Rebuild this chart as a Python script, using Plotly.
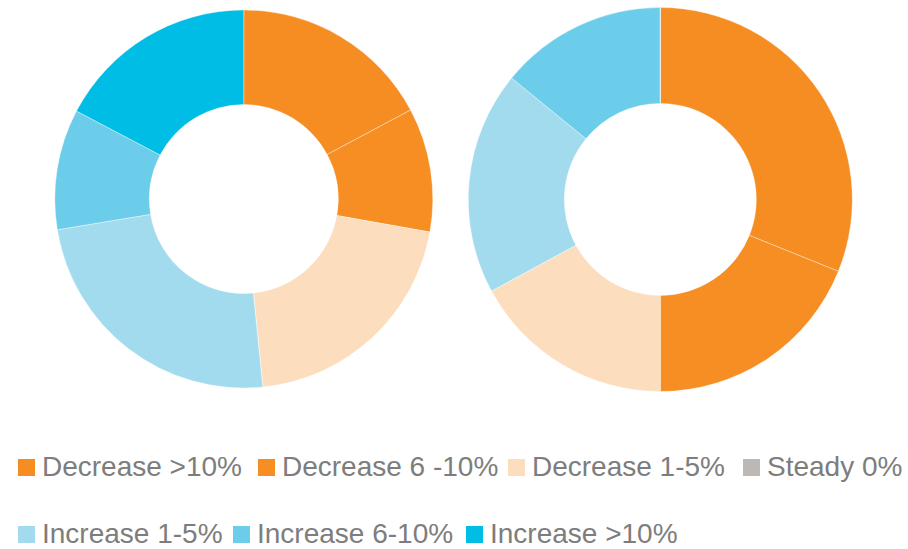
import plotly.graph_objects as go

# Share of respondents by expected change, two survey groups
categories = [
    "Decrease >10%",
    "Decrease 6 -10%",
    "Decrease 1-5%",
    "Steady 0%",
    "Increase 1-5%",
    "Increase 6-10%",
    "Increase >10%",
]
left_values = [17.2, 10.6, 20.6, 0, 24.0, 10.3, 17.3]
right_values = [31.1, 18.9, 17.1, 0, 18.8, 14.1, 0]

colors = ["#F58D22", "#F68E23", "#FCDDBE", "#BDB8B3", "#A3DBEE", "#6BCDEA", "#00BDE5"]

W, H = 908, 549


def px_x(x):
    return x / W


def px_y(y):
    return 1 - y / H


def pie_domain(cx, cy, r):
    return dict(x=[px_x(cx - r), px_x(cx + r)], y=[px_y(cy + r), px_y(cy - r)])


fig = go.Figure()
for vals, (cx, cy, r) in [(left_values, (243.8, 199, 189)), (right_values, (660.3, 199.5, 192))]:
    fig.add_trace(go.Pie(
        labels=categories,
        values=vals,
        hole=0.5,
        sort=False,
        direction="clockwise",
        rotation=0,
        textinfo="none",
        hoverinfo="label+value",
        marker=dict(colors=colors, line=dict(color="rgba(255,255,255,0.6)", width=0.6)),
        domain=pie_domain(cx, cy, r),
        showlegend=False,
    ))

# Custom legend: coloured swatch followed by its label, two rows
legend_rows = [(466.5, [0, 1, 2, 3], [18, 258, 508, 743]),
               (533.5, [4, 5, 6], [18, 233, 466])]
swatch = 17
text_gap = 5
shapes, annotations = [], []
for yc, idxs, xs in legend_rows:
    for i, x0 in zip(idxs, xs):
        shapes.append(dict(
            type="rect", xref="paper", yref="paper",
            x0=px_x(x0), x1=px_x(x0 + swatch),
            y0=px_y(yc + swatch / 2 + 1), y1=px_y(yc - swatch / 2 + 1),
            fillcolor=colors[i], line=dict(width=0),
        ))
        annotations.append(dict(
            xref="paper", yref="paper",
            x=px_x(x0 + swatch + text_gap), y=px_y(yc),
            xanchor="left", yanchor="middle",
            text=categories[i], showarrow=False,
            font=dict(family="Liberation Sans, Arial, sans-serif", size=28, color="#7d7d7d"),
        ))

fig.update_layout(
    width=W, height=H,
    margin=dict(l=0, r=0, t=0, b=0),
    paper_bgcolor="white",
    plot_bgcolor="white",
    shapes=shapes,
    annotations=annotations,
    showlegend=False,
)

fig.write_html("out.html")
